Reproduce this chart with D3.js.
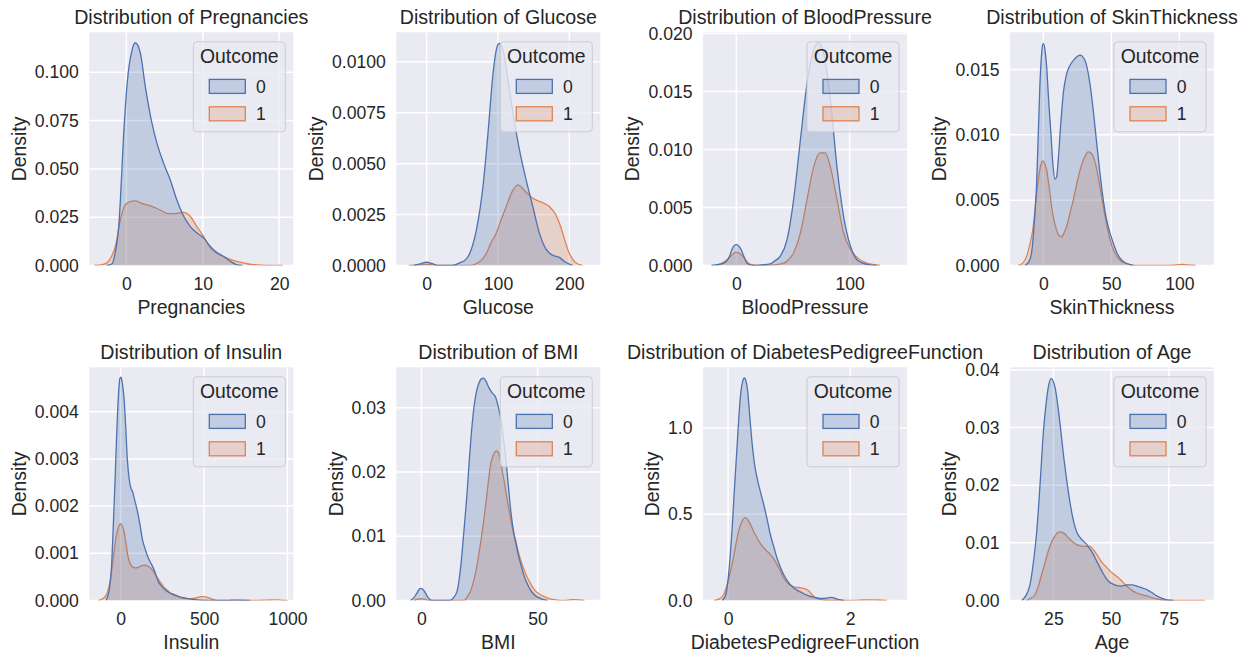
<!DOCTYPE html>
<html>
<head>
<meta charset="utf-8">
<script src="https://cdn.jsdelivr.net/npm/d3@7"></script>
<style>
  body { margin: 0; background: #ffffff; }
  svg { display: block; font-family: 'Liberation Sans', Arial, sans-serif; }
  .grid line { stroke: #ffffff; stroke-width: 1.5; }
  .tick text { fill: #262626; font-size: 17.6px; }
</style>
</head>
<body>
<div id="vis"></div>
<script>
// ---- data ----
const features = ['Pregnancies', 'Glucose', 'BloodPressure', 'SkinThickness',
                  'Insulin', 'BMI', 'DiabetesPedigreeFunction', 'Age'];
const outcomes = ['0', '1'];

const xDomains = [[-4.85, 21.85], [-42.6, 243.5], [-29.4, 150.6], [-24.5, 125.5],
                  [-188, 1035], [-10.8, 77], [-0.41, 2.93], [6.2, 94.6]];
const yMaxes = [0.1207, 0.01145, 0.0201, 0.01784, 0.00494, 0.0363, 1.352, 0.04045];
const xTickValues = [[0, 10, 20], [0, 100, 200], [0, 100], [0, 50, 100],
                     [0, 500, 1000], [0, 50], [0, 2], [25, 50, 75]];
const yTickValues = [[0, 0.025, 0.05, 0.075, 0.1], [0, 0.0025, 0.005, 0.0075, 0.01],
                     [0, 0.005, 0.01, 0.015, 0.02], [0, 0.005, 0.01, 0.015],
                     [0, 0.001, 0.002, 0.003, 0.004], [0, 0.01, 0.02, 0.03],
                     [0, 0.5, 1.0], [0, 0.01, 0.02, 0.03, 0.04]];
const yTickFormats = ['.3f', '.4f', '.3f', '.3f', '.3f', '.2f', '.1f', '.2f'];

// density curves, [value, density]
const pregnancies0 = [[-2.6,0],[-1.9,0.0008],[-1.4,0.008],[-1.0,0.02],[-0.78,0.034],[-0.35,0.068],[0.1,0.094],[0.74,0.1115],[1.17,0.1153],[1.83,0.110],[2.48,0.0926],[3.35,0.0737],[4.0,0.0633],[4.87,0.053],[5.74,0.0444],[6.6,0.034],[7.5,0.0255],[8.35,0.0203],[9.2,0.0169],[10.1,0.0143],[10.96,0.010],[11.8,0.0068],[12.7,0.0048],[13.6,0.0022],[14.4,0.0005],[15.2,0]];
const pregnancies1 = [[-4.2,0],[-3.2,0.0004],[-2.5,0.0016],[-1.9,0.005],[-1.43,0.010],[-0.78,0.0238],[-0.13,0.0315],[0.6,0.0332],[1.17,0.0334],[2.0,0.0322],[2.7,0.0314],[3.4,0.0305],[4.0,0.0295],[4.7,0.0282],[5.3,0.027],[6.0,0.0268],[6.6,0.027],[7.5,0.0275],[8.35,0.0255],[9.2,0.0203],[10.1,0.0151],[10.96,0.0093],[11.8,0.0066],[12.5,0.005],[13.1,0.004],[14.0,0.0027],[14.9,0.0017],[15.8,0.0009],[16.6,0.0005],[17.8,0.0002],[19,0.00005],[20.5,0]];
const glucose0 = [[-18,0],[-9,0.00008],[0,0.00016],[9,0.00008],[16,0],[35,0],[46.5,0.00013],[55,0.0003],[60.5,0.0006],[69.8,0.00176],[79,0.0039],[86,0.0065],[93,0.0094],[97.7,0.0106],[101.4,0.0109],[107,0.0106],[114,0.0091],[121,0.0075],[130,0.0057],[139.5,0.0042],[148.8,0.0029],[158,0.0016],[167.4,0.0008],[176.7,0.0005],[186,0.0004],[195,0.00016],[205,0]];
const glucose1 = [[-25,0],[-10,0.00003],[0,0.00005],[10,0.00003],[20,0],[60,0],[70,0.0001],[78,0.0003],[83.7,0.0006],[90,0.0011],[97.7,0.0016],[104,0.0022],[111.6,0.0029],[121,0.0037],[128,0.00396],[134,0.0038],[139.5,0.0036],[148.8,0.0033],[158,0.00315],[165,0.00305],[172,0.0029],[177,0.0027],[181,0.0025],[186,0.0021],[190.7,0.0016],[195,0.0011],[200,0.0006],[205,0.0003],[209,0.00013],[218.6,0]];
const bloodPressure0 = [[-22,0],[-11,0.0002],[-6,0.0008],[-3.8,0.0014],[0,0.0018],[4.1,0.0014],[7,0.0007],[9.4,0.0002],[15.3,0],[22,0.00005],[30,0.00014],[34,0.0004],[38.8,0.0008],[44.7,0.0022],[50.6,0.0057],[56.5,0.0108],[62.4,0.0157],[68.2,0.0186],[72.6,0.0192],[77,0.0183],[83,0.0143],[88.8,0.0085],[94.7,0.0042],[100.6,0.0017],[106.5,0.0005],[115.3,0.0001],[124,0]];
const bloodPressure1 = [[-17,0],[-8.2,0.0005],[-4,0.0009],[0,0.00115],[3.5,0.001],[6.5,0.0007],[12.4,0.0001],[20,0],[30,0.00003],[41.8,0.0002],[46,0.0005],[50.6,0.0011],[56.5,0.0028],[62.4,0.0057],[68.2,0.0085],[74,0.0097],[78.5,0.0097],[83,0.0085],[88.8,0.0057],[94.7,0.0028],[100.6,0.0014],[106.5,0.0007],[115.3,0.0002],[127,0]];
const skinThickness0 = [[-13.5,0],[-10.5,0.0003],[-8.6,0.001],[-6.5,0.0035],[-4.9,0.0063],[-2.5,0.0139],[-1,0.0165],[0,0.017],[1.2,0.0165],[2.45,0.0152],[4,0.0125],[5.6,0.0101],[7,0.0078],[8.6,0.0066],[9.8,0.0068],[11,0.0081],[12.8,0.0108],[14.7,0.0132],[17,0.0146],[19.6,0.0153],[23,0.0158],[27,0.0161],[30.6,0.0157],[34.3,0.0139],[36.8,0.0118],[39.2,0.0094],[41.6,0.0071],[44.1,0.005],[46.5,0.0035],[49,0.0025],[51.5,0.0017],[54,0.001],[58.8,0.0003],[66,0]];
const skinThickness1 = [[-18.4,0],[-15,0.0002],[-12.3,0.0007],[-9.5,0.0018],[-7.4,0.003],[-5.5,0.0049],[-3.7,0.0066],[-1.5,0.0078],[-0.3,0.008],[1,0.0078],[2.45,0.0073],[4.3,0.006],[6.1,0.0045],[8,0.0034],[9.8,0.0027],[11.5,0.0023],[13.5,0.0022],[15.3,0.0025],[17.2,0.003],[19.6,0.004],[22,0.005],[24.5,0.0062],[27,0.0073],[30,0.0082],[33,0.0087],[35,0.0086],[36.8,0.0083],[39.2,0.0074],[41.7,0.006],[43.5,0.0049],[45.3,0.0038],[47,0.0029],[49,0.002],[51.5,0.0012],[54,0.0007],[57.5,0.0003],[61.3,0.00015],[68.6,0],[90,0],[95.6,0.00002],[101.7,0.00008],[106,0.00004],[112,0]];
const insulin0 = [[-88,0],[-70,0.0002],[-54,0.00076],[-44,0.0016],[-34,0.0025],[-24,0.0035],[-14,0.0043],[-5,0.0047],[2,0.00473],[10,0.0046],[20,0.0043],[30,0.0037],[40,0.003],[50,0.0026],[60,0.0024],[72,0.0023],[86,0.0021],[100,0.0019],[116,0.0016],[130,0.0013],[146,0.0011],[166,0.0009],[186,0.00076],[206,0.0006],[226,0.0004],[246,0.0003],[266,0.00023],[290,0.00017],[316,0.00013],[346,0.00009],[376,0.00006],[420,0.00003],[476,0.00001],[576,0],[650,0],[676,0.00001],[710,0.000005],[776,0]];
const insulin1 = [[-134,0],[-110,0.00003],[-84,0.00013],[-64,0.0004],[-44,0.0009],[-28,0.00133],[-14,0.00154],[0,0.00163],[10,0.00158],[20,0.00147],[32,0.0012],[46,0.0009],[60,0.00076],[76,0.0007],[90,0.00069],[106,0.0007],[126,0.00074],[146,0.00075],[166,0.00072],[196,0.00062],[216,0.0005],[236,0.0004],[256,0.0003],[276,0.00023],[306,0.00014],[336,0.00009],[366,0.00005],[396,0.00004],[426,0.00004],[456,0.00006],[480,0.00008],[500,0.00008],[525,0.00006],[556,0.00002],[596,0],[820,0],[870,0.00001],[920,0.000015],[956,0.00001],[1000,0]];
const bmi0 = [[-4.75,0],[-3.3,0.0004],[-2,0.0011],[-0.5,0.0019],[0.7,0.0017],[1.7,0.0012],[2.8,0.0005],[3.9,0.0001],[5,0],[12,0],[13.5,0.0003],[15.4,0.0015],[17,0.0055],[18.3,0.0108],[19.5,0.016],[20.5,0.0212],[21.5,0.026],[22.6,0.03],[23.7,0.0325],[24.8,0.0339],[25.8,0.0345],[26.7,0.0346],[28,0.034],[29.1,0.0331],[30.5,0.0323],[32,0.0316],[33,0.0303],[34.1,0.0284],[35.2,0.0256],[36.3,0.0222],[37.4,0.018],[38.5,0.0139],[39.5,0.0111],[40.6,0.009],[41.7,0.0071],[42.8,0.0056],[44.2,0.0038],[45.7,0.0025],[47.2,0.0015],[48.6,0.0009],[51.4,0.0003],[54.3,0]];
const bmi1 = [[-3.3,0],[-1.5,0.0002],[0,0.0003],[1.5,0.0002],[3.2,0],[18.3,0],[19.8,0.0006],[21.2,0.0015],[22.6,0.0032],[24,0.0056],[25.5,0.009],[27,0.0129],[28.4,0.0172],[29.8,0.0212],[30.9,0.0226],[32.4,0.0233],[33.4,0.0228],[34.5,0.0208],[35.6,0.0186],[36.7,0.0162],[37.8,0.0139],[39.2,0.0112],[40.6,0.0093],[41.7,0.0076],[42.8,0.0062],[44.2,0.0048],[45.7,0.0035],[47.2,0.0025],[48.6,0.0017],[50.7,0.001],[52.9,0.0006],[55,0.0003],[57.2,0.00015],[61.5,0],[64,0.0001],[66,0.00015],[68,0.0001],[70.2,0]];
const pedigree0 = [[-0.1,0],[-0.04,0.03],[0,0.12],[0.04,0.28],[0.065,0.403],[0.1,0.62],[0.147,0.888],[0.18,1.08],[0.213,1.217],[0.24,1.27],[0.267,1.29],[0.295,1.27],[0.32,1.217],[0.355,1.07],[0.39,0.926],[0.43,0.8],[0.474,0.713],[0.53,0.63],[0.583,0.558],[0.64,0.47],[0.692,0.384],[0.75,0.31],[0.8,0.248],[0.86,0.19],[0.91,0.151],[0.98,0.11],[1.046,0.083],[1.13,0.06],[1.21,0.045],[1.3,0.03],[1.4,0.019],[1.48,0.013],[1.56,0.012],[1.63,0.015],[1.7,0.018],[1.77,0.01],[1.84,0.004],[1.9,0]];
const pedigree1 = [[-0.23,0],[-0.15,0.008],[-0.07,0.035],[0,0.11],[0.065,0.209],[0.12,0.31],[0.174,0.403],[0.23,0.46],[0.283,0.48],[0.32,0.47],[0.365,0.442],[0.42,0.4],[0.474,0.364],[0.53,0.33],[0.583,0.306],[0.64,0.285],[0.692,0.267],[0.75,0.24],[0.8,0.209],[0.86,0.17],[0.91,0.132],[0.98,0.1],[1.046,0.083],[1.11,0.077],[1.18,0.074],[1.24,0.07],[1.29,0.064],[1.35,0.045],[1.4,0.025],[1.46,0.012],[1.51,0.006],[1.6,0.002],[1.67,0],[2.05,0],[2.2,0.003],[2.33,0.004],[2.45,0.003],[2.6,0]];
const age0 = [[11.3,0],[13,0.0008],[14.9,0.0028],[16.3,0.0065],[17.8,0.012],[19.2,0.02],[20.7,0.0294],[21.8,0.034],[22.8,0.037],[24,0.0385],[25.7,0.037],[26.8,0.0342],[27.9,0.0306],[29.3,0.0255],[30.8,0.0208],[32.2,0.017],[33.7,0.0138],[35.1,0.0119],[36.6,0.0109],[38,0.0103],[39.5,0.0097],[40.9,0.0089],[42.3,0.008],[43.8,0.0068],[45.2,0.0057],[46.7,0.0046],[48.1,0.0037],[49.6,0.0031],[51,0.0028],[53.9,0.0025],[56.8,0.0027],[59,0.0027],[61.1,0.0025],[63.3,0.0022],[65.5,0.0019],[67.6,0.0014],[69.8,0.0008],[72,0.0004],[74.1,0.0001],[77,0]];
const age1 = [[13.4,0],[15.2,0.0004],[17,0.001],[18.5,0.0025],[19.9,0.0045],[21.4,0.0066],[22.8,0.0086],[24.2,0.0101],[25.7,0.0112],[27,0.0118],[28.2,0.0119],[29.8,0.0116],[31.5,0.0109],[33.3,0.0102],[35.1,0.0097],[36.5,0.0095],[38,0.0094],[40.9,0.0094],[42.3,0.0088],[43.8,0.008],[45.2,0.0071],[46.7,0.0063],[48.2,0.0057],[49.6,0.0051],[51.8,0.0044],[53.9,0.0037],[55.3,0.0031],[56.8,0.0025],[58.9,0.0018],[61.1,0.0013],[63.3,0.001],[65.5,0.0008],[67.6,0.0005],[69.8,0.0003],[74.1,0],[85,0],[88,0.00001],[90.7,0]];

// one pair of curves (outcome 0, outcome 1) per feature
const densities = [[pregnancies0, pregnancies1], [glucose0, glucose1],
                   [bloodPressure0, bloodPressure1], [skinThickness0, skinThickness1],
                   [insulin0, insulin1], [bmi0, bmi1], [pedigree0, pedigree1], [age0, age1]];

// ---- layout ----
const width = 1238, height = 657;
const panelW = 204, panelH = 233.2;
const colLeft = [89.3, 396.3, 703, 1010];
const rowTop = [32.3, 367.3];
const colors = ['#4c72b0', '#dd8452'];
const textColor = '#262626';

const svg = d3.select('#vis')
    .append('svg')
    .attr('width', width)
    .attr('height', height);

features.forEach((feature, i) => {
  const g = svg.append('g')
      .attr('transform', `translate(${colLeft[i % 4]},${rowTop[Math.floor(i / 4)]})`);

  const x = d3.scaleLinear().domain(xDomains[i]).range([0, panelW]);
  const y = d3.scaleLinear().domain([0, yMaxes[i]]).range([panelH, 0]);

  // dark grid background
  g.append('rect')
      .attr('width', panelW)
      .attr('height', panelH)
      .attr('fill', '#eaeaf2');

  g.append('clipPath').attr('id', 'clip' + i)
    .append('rect').attr('width', panelW).attr('height', panelH);

  // white grid lines
  const grid = g.append('g').attr('class', 'grid');
  grid.selectAll('.vx').data(xTickValues[i]).join('line')
      .attr('x1', d => x(d)).attr('x2', d => x(d))
      .attr('y1', 0).attr('y2', panelH);
  grid.selectAll('.hy').data(yTickValues[i]).join('line')
      .attr('x1', 0).attr('x2', panelW)
      .attr('y1', d => y(d)).attr('y2', d => y(d));

  // axes, no tick marks, no spines
  const xAxisG = g.append('g')
      .attr('transform', `translate(0,${panelH})`)
      .call(d3.axisBottom(x).tickValues(xTickValues[i]).tickSize(0).tickPadding(12.5)
              .tickFormat(d3.format('d')));
  const yAxisG = g.append('g')
      .call(d3.axisLeft(y).tickValues(yTickValues[i]).tickSize(0).tickPadding(10.5)
              .tickFormat(d3.format(yTickFormats[i])));
  xAxisG.select('.domain').remove();
  yAxisG.select('.domain').remove();

  // curves: outcome 1 first, outcome 0 on top (seaborn draws hue levels in reverse)
  const area = d3.area()
      .x(d => x(d[0])).y0(y(0)).y1(d => y(d[1]))
      .curve(d3.curveMonotoneX);
  const line = d3.line()
      .x(d => x(d[0])).y(d => y(d[1]))
      .curve(d3.curveMonotoneX);
  const curves = g.append('g').attr('clip-path', `url(#clip${i})`);
  [1, 0].forEach(k => {
    curves.append('path')
        .datum(densities[i][k])
        .attr('d', area)
        .attr('fill', colors[k])
        .attr('fill-opacity', 0.25);
    curves.append('path')
        .datum(densities[i][k])
        .attr('d', line)
        .attr('fill', 'none')
        .attr('stroke', colors[k])
        .attr('stroke-width', 1.3);
  });

  // title and axis labels
  g.append('text')
      .attr('x', panelW / 2).attr('y', -8)
      .attr('text-anchor', 'middle')
      .attr('fill', textColor).style('font-size', '19.6px')
      .text('Distribution of ' + feature);
  g.append('text')
      .attr('x', panelW / 2).attr('y', panelH + 49)
      .attr('text-anchor', 'middle')
      .attr('fill', textColor).style('font-size', '19.4px')
      .text(feature);
  // y label sits left of the widest tick label
  const maxTickW = d3.max(yAxisG.selectAll('text').nodes(), n => n.getComputedTextLength());
  g.append('text')
      .attr('transform', `translate(${-10.5 - maxTickW - 9},${panelH / 2}) rotate(-90)`)
      .attr('text-anchor', 'middle')
      .attr('fill', textColor).style('font-size', '19.4px')
      .text('Density');

  // legend, upper right
  const legW = 92, legH = 90;
  const leg = g.append('g').attr('transform', `translate(${panelW - 8 - legW},9.5)`);
  leg.append('rect')
      .attr('width', legW).attr('height', legH)
      .attr('rx', 3.5)
      .attr('fill', 'rgba(234,234,242,0.8)')
      .attr('stroke', '#cccccc')
      .attr('stroke-width', 1);
  leg.append('text')
      .attr('x', legW / 2).attr('y', 21.5)
      .attr('text-anchor', 'middle')
      .attr('fill', textColor).style('font-size', '19.4px')
      .text('Outcome');
  outcomes.forEach((o, k) => {
    const ly = 37.6 + k * 27.4;
    leg.append('rect')
        .attr('x', 16).attr('y', ly)
        .attr('width', 36).attr('height', 14)
        .attr('fill', colors[k]).attr('fill-opacity', 0.25)
        .attr('stroke', colors[k]).attr('stroke-width', 1.3);
    leg.append('text')
        .attr('x', 67.7).attr('y', ly + 13.3)
        .attr('text-anchor', 'middle')
        .attr('fill', textColor).style('font-size', '17.6px')
        .text(o);
  });
});
</script>
</body>
</html>
